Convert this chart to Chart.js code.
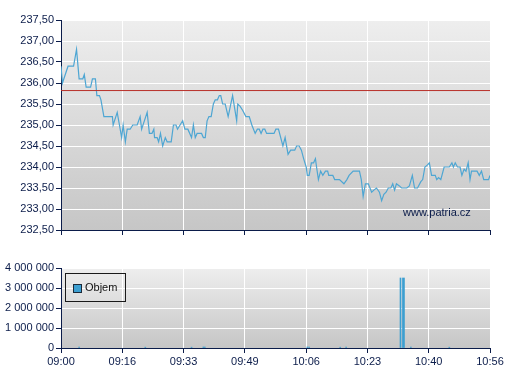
<!DOCTYPE html>
<html>
<head>
<meta charset="utf-8">
<script src="https://cdn.jsdelivr.net/npm/chart.js@4/dist/chart.umd.min.js"></script>
<style>
  html, body { margin: 0; padding: 0; background: #ffffff; }
  #wrap { position: relative; width: 507px; height: 380px; overflow: hidden; }
  canvas { position: absolute; left: 0; }
  #priceCanvas { top: 0; }
  #volCanvas { top: 240px; }
  .txt { position: absolute; font-family: "Liberation Sans", Arial, sans-serif; font-size: 11px; color: #0b1c4a; white-space: nowrap; }
  #watermark { left: 403px; top: 206px; }
  #legend { left: 65px; top: 273px; width: 61px; height: 29px; border: 1px solid #1a1a1a; box-sizing: border-box; }
  #legend .sw { position: absolute; left: 7px; top: 10px; width: 7px; height: 7px; background: #3c9fd1; border: 1px solid #1a2a3a; }
  #legend .lb { position: absolute; left: 19px; top: 7px; color: #111; }
</style>
</head>
<body>
<div id="wrap">
  <canvas id="priceCanvas" width="507" height="240"></canvas>
  <canvas id="volCanvas" width="507" height="140"></canvas>
  <div id="watermark" class="txt">www.patria.cz</div>
  <div id="legend" class="txt"><div class="sw"></div><div class="lb txt">Objem</div></div>
</div>
<script>
// ---- data (minutes after 09:00) ----
const timeLabels = ['09:00','09:16','09:33','09:49','10:06','10:23','10:40','10:56'];
const sessionMinutes = 116;
const refPrice = 235.82;
const priceTimes = [0,0.4,1.9,3.4,4.2,4.9,5.9,6.3,6.8,8.0,8.5,9.3,9.7,10.4,10.8,11.6,13.9,14.1,15.2,15.8,
  16.4,16.8,17.4,17.9,18.7,19.4,20.6,21.4,21.8,23.3,23.9,24.6,25.1,25.3,26.0,26.4,26.9,27.5,28.2,28.7,
  29.8,30.4,31.1,31.5,32.9,33.5,34.3,35.3,35.8,36.3,36.8,38.0,38.5,39.0,39.5,40.0,40.6,41.2,41.7,42.3,
  42.8,43.2,43.7,44.4,45.2,46.4,47.5,47.8,48.4,49.1,50.0,50.9,51.6,52.5,53.1,53.6,54.1,54.6,55.1,55.6,
  57.6,58.1,58.8,60.0,60.6,61.4,62.1,63.2,63.7,64.4,65.0,65.6,66.3,66.6,67.1,67.7,68.3,68.8,69.1,69.6,
  70.2,70.8,71.5,72.1,72.4,73.5,74.0,75.3,76.5,77.3,77.9,79.0,80.7,81.2,81.7,82.3,83.1,84.0,84.6,85.3,
  86.1,86.7,87.3,87.9,88.5,89.2,89.7,90.2,90.7,91.5,92.1,93.5,94.2,95.0,95.6,96.4,97.3,97.8,98.4,99.1,
  99.6,100.2,101.2,101.6,102.1,102.7,103.6,105.0,105.7,106.1,106.6,107.2,107.9,108.4,109.0,109.5,110.1,110.6,111.0,112.5,
  113.1,113.7,114.3,115.6,116.0];
const priceValues = [236.4,236.0,236.4,236.4,236.8,236.1,236.1,236.2,235.9,235.9,236.1,236.1,235.7,235.7,235.6,235.2,235.2,235.0,235.3,235.0,
  234.7,235.0,234.6,234.9,234.9,235.0,235.0,235.2,234.9,235.3,234.8,234.8,234.9,234.7,234.7,234.6,234.8,234.5,234.7,234.6,
  234.6,235.0,235.0,234.9,235.1,234.9,234.9,234.7,235.0,234.7,234.8,234.8,234.7,234.7,235.1,235.2,235.2,235.5,235.6,235.6,
  235.7,235.7,235.5,235.5,235.2,235.7,235.1,235.5,235.45,235.35,235.2,235.2,235.0,234.8,234.9,234.9,234.8,234.9,234.9,234.8,
  234.8,234.9,234.9,234.5,234.7,234.3,234.4,234.4,234.5,234.5,234.4,234.2,234.0,233.8,233.8,234.1,234.1,234.2,234.0,233.7,
  233.9,233.8,233.9,233.9,233.8,233.8,233.7,233.7,233.6,233.7,233.8,233.9,233.9,233.7,233.3,233.6,233.6,233.4,233.45,233.5,
  233.4,233.2,233.35,233.4,233.5,233.5,233.6,233.45,233.6,233.55,233.5,233.5,233.55,233.8,233.5,233.5,233.65,233.7,234.0,234.05,
  234.1,233.8,233.8,233.7,233.75,233.7,234.0,234.0,234.1,234.0,234.1,234.0,234.0,233.8,233.95,233.9,234.1,233.7,233.9,233.9,
  233.8,233.9,233.7,233.7,233.8];
// small trades (thin bars) and the two large block trades
const volTimes  = [4.9, 22.8, 35.3, 38.5, 38.9, 66.6, 67.1, 75.5, 77.1, 91.8, 94.6, 105.0];
const volValues = [40000, 40000, 40000, 50000, 50000, 50000, 50000, 40000, 50000, 3500000, 50000, 40000];
const blockTimes  = [92.6];
const blockValues = [3500000];
const priceTicks = [232.5, 233, 233.5, 234, 234.5, 235, 235.5, 236, 236.5, 237, 237.5];
const volTicks = [0, 1000000, 2000000, 3000000, 4000000];

// ---- styling ----
const NAVY = '#0b1c4a';
const FONT = { family: '"Liberation Sans", Arial, sans-serif', size: 11 };
Chart.defaults.font = FONT;
Chart.defaults.color = NAVY;

const bgPlugin = {
  id: 'plotBg',
  beforeDraw(chart) {
    const a = chart.chartArea, ctx = chart.ctx;
    const g = ctx.createLinearGradient(0, a.top, 0, a.bottom);
    g.addColorStop(0, '#eeeeee');
    g.addColorStop(1, '#c6c6c6');
    ctx.save();
    ctx.fillStyle = g;
    ctx.fillRect(a.left, a.top, a.right - a.left, a.bottom - a.top);
    ctx.restore();
  }
};

function xScale(showLabels, height) {
  return {
    type: 'linear', min: 0, max: sessionMinutes, offset: false,
    afterBuildTicks: (ax) => { ax.ticks = timeLabels.map((_, i) => ({ value: i * sessionMinutes / (timeLabels.length - 1) })); },
    afterFit: (ax) => { ax.height = height; },
    grid: { offset: false, color: '#ffffff', lineWidth: 1, tickColor: NAVY, tickLength: 5, drawTicks: true },
    border: { color: NAVY, width: 1 },
    ticks: {
      display: showLabels, autoSkip: false, maxRotation: 0, padding: 2, color: NAVY, font: FONT,
      callback: (v, i) => timeLabels[i]
    }
  };
}

function fmtComma(v) { return v.toFixed(2).replace('.', ','); }
function fmtSpace(v) { return Math.round(v).toString().replace(/\B(?=(\d{3})+(?!\d))/g, ' '); }

new Chart(document.getElementById('priceCanvas'), {
  type: 'line',
  data: {
    datasets: [
      {
        data: [{ x: 0, y: refPrice }, { x: sessionMinutes, y: refPrice }],
        borderColor: '#b83028', borderWidth: 1, pointRadius: 0, tension: 0, order: 1
      },
      {
        data: priceTimes.map((t, i) => ({ x: t, y: priceValues[i] })),
        borderColor: '#4ea6d3', borderWidth: 1.2, pointRadius: 0, tension: 0, order: 2
      }
    ]
  },
  options: {
    responsive: false, animation: false, devicePixelRatio: 1,
    layout: { padding: { left: 0, right: 17, top: 20, bottom: 0 } },
    plugins: { legend: { display: false }, tooltip: { enabled: false } },
    scales: {
      x: xScale(false, 10),
      y: {
        min: 232.5, max: 237.5,
        afterBuildTicks: (ax) => { ax.ticks = priceTicks.map(v => ({ value: v })); },
        afterFit: (ax) => { ax.width = 61; },
        grid: { color: '#ffffff', lineWidth: 1, tickColor: NAVY, tickLength: 5 },
        border: { color: NAVY, width: 1 },
        ticks: { padding: 2, color: NAVY, font: FONT, callback: (v) => fmtComma(v) }
      }
    }
  },
  plugins: [bgPlugin]
});

new Chart(document.getElementById('volCanvas'), {
  type: 'bar',
  data: {
    datasets: [
      {
        data: volTimes.map((t, i) => ({ x: t, y: volValues[i] })),
        backgroundColor: '#3c9fd1', borderWidth: 0, barThickness: 1, grouped: false
      },
      {
        data: blockTimes.map((t, i) => ({ x: t, y: blockValues[i] })),
        backgroundColor: '#3c9fd1', borderWidth: 0, barThickness: 2, grouped: false
      }
    ]
  },
  options: {
    responsive: false, animation: false, devicePixelRatio: 1,
    layout: { padding: { left: 0, right: 17, top: 28, bottom: 0 } },
    plugins: { legend: { display: false }, tooltip: { enabled: false } },
    scales: {
      x: xScale(true, 32),
      y: {
        min: 0, max: 4000000,
        afterBuildTicks: (ax) => { ax.ticks = volTicks.map(v => ({ value: v })); },
        afterFit: (ax) => { ax.width = 61; },
        grid: { color: '#ffffff', lineWidth: 1, tickColor: NAVY, tickLength: 5 },
        border: { color: NAVY, width: 1 },
        ticks: { padding: 2, color: NAVY, font: FONT, callback: (v) => fmtSpace(v) }
      }
    }
  },
  plugins: [bgPlugin]
});
</script>
</body>
</html>
